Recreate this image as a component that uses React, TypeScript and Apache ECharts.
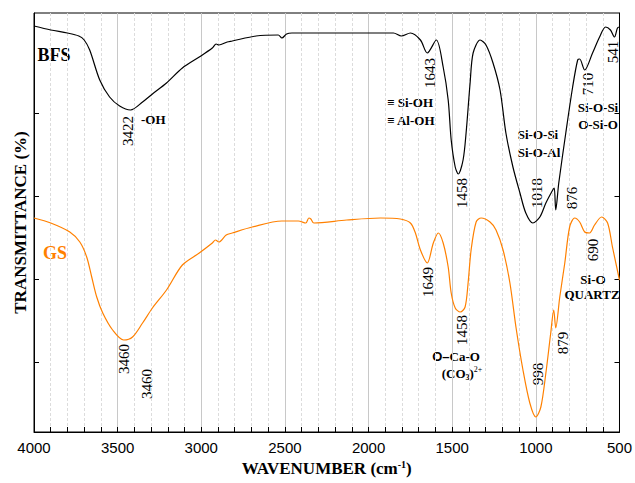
import React, { useEffect, useRef } from 'react';
import * as echarts from 'echarts';

// Wavenumber (cm-1) and relative transmittance (arbitrary units)
const bfsWavenumber = [4000, 3900, 3800, 3732, 3700, 3667, 3607, 3548, 3488, 3423, 3351, 3292, 3208, 3113, 3012, 2934, 2911, 2895, 2845, 2815, 2673, 2540, 2518, 2490, 2458, 2300, 2000, 1851, 1804, 1750, 1690, 1649, 1595, 1554, 1524, 1506, 1482, 1464, 1435, 1417, 1393, 1375, 1333, 1298, 1256, 1214, 1179, 1137, 1095, 1060, 1018, 976, 940, 899, 890, 881, 863, 821, 780, 750, 738, 708, 661, 619, 583, 554, 530, 512, 500];
const bfsValue = [406, 402, 399, 396, 392, 382, 352, 335, 326, 322, 330, 338, 349, 364, 375, 384, 388, 387, 390, 391, 396, 397, 394, 398, 399, 399, 399, 399, 396, 399, 392, 379, 392, 365, 332, 292, 265, 258, 272, 299, 349, 379, 392, 387, 369, 342, 299, 265, 239, 219, 209, 215, 229, 242, 244, 222, 249, 299, 345, 372, 373, 362, 379, 395, 405, 402, 395, 404, 405];

const gsWavenumber = [4000, 3900, 3786, 3726, 3685, 3655, 3625, 3589, 3530, 3464, 3411, 3351, 3292, 3208, 3113, 3012, 2934, 2915, 2895, 2851, 2815, 2696, 2518, 2420, 2375, 2357, 2345, 2327, 2131, 1929, 1810, 1750, 1720, 1690, 1649, 1613, 1583, 1554, 1524, 1506, 1482, 1452, 1423, 1405, 1387, 1357, 1327, 1274, 1238, 1196, 1155, 1119, 1077, 1036, 1000, 970, 940, 911, 893, 881, 857, 827, 798, 768, 738, 708, 679, 649, 607, 571, 542, 500];
const gsValue = [214, 209, 200, 190, 175, 155, 135, 119, 102, 92, 95, 109, 124, 142, 167, 179, 189, 192, 190, 197, 199, 205, 211, 211, 209, 214, 213, 209, 212, 214, 213, 209, 199, 182, 169, 189, 199, 189, 165, 139, 124, 120, 125, 149, 182, 210, 214, 210, 202, 182, 149, 105, 62, 29, 15, 25, 59, 99, 122, 104, 135, 169, 205, 214, 210, 200, 199, 207, 215, 209, 185, 152];

const yTickValues = [70, 153, 236, 319];

const SERIF = '"Liberation Serif", "Times New Roman", serif';
const SANS = '"Liberation Sans", Arial, sans-serif';

export default function App() {
  const ref = useRef<HTMLDivElement>(null);
  useEffect(() => {
    const chart = echarts.init(ref.current!, null, { renderer: 'svg' });

    const num = (text: string, x: number, y: number) => ({
      type: 'text', x, y, rotation: Math.PI / 2,
      style: { text, fill: '#000', font: `15px ${SERIF}`, textAlign: 'center', textVerticalAlign: 'middle' },
    });
    const lab = (text: string, x: number, y: number, align = 'center', size = 13, color = '#000') => ({
      type: 'text', x, y,
      style: { text, fill: color, font: `bold ${size}px ${SERIF}`, textAlign: align, textVerticalAlign: 'middle' },
    });

    const yAxisBase = {
      type: 'value', min: 0, max: 419,
      axisLine: { show: true, lineStyle: { color: '#000', width: 1 } },
      axisTick: { show: true, inside: true, length: 5, customValues: yTickValues, lineStyle: { color: '#000' } },
      axisLabel: { show: false },
      splitLine: { show: false },
    };

    chart.setOption({
      animation: false,
      backgroundColor: '#fff',
      grid: { left: 34, right: 13, top: 13, bottom: 51, show: true, borderColor: '#000', borderWidth: 1, backgroundColor: 'transparent' },
      xAxis: {
        type: 'value', min: 500, max: 4000, interval: 500, inverse: true,
        name: 'WAVENUMBER (cm{sup|-1})', nameLocation: 'middle', nameGap: 27,
        nameTextStyle: {
          fontFamily: SERIF, fontWeight: 'bold', fontSize: 17, color: '#000',
          rich: { sup: { fontFamily: SERIF, fontWeight: 'bold', fontSize: 10, verticalAlign: 'top', color: '#000', padding: [0, 0, 6, 0] } },
        },
        axisLine: { onZero: false, lineStyle: { color: '#000', width: 1 } },
        axisTick: { inside: true, length: 5, lineStyle: { color: '#000' } },
        minorTick: { show: true, splitNumber: 5, length: 5, lineStyle: { color: '#000' } },
        axisLabel: { fontFamily: SANS, fontSize: 15, color: '#000', margin: 8, formatter: (v: number) => String(v) },
        splitLine: { show: true, lineStyle: { color: '#c8c8c8', width: 1 } },
        minorSplitLine: { show: true, lineStyle: { color: '#dcdcdc', width: 1, type: [3, 2] } },
      },
      yAxis: [
        { ...yAxisBase, position: 'left', name: 'TRANSMITTANCE (%)', nameLocation: 'middle', nameGap: 5,
          nameTextStyle: { fontFamily: SERIF, fontWeight: 'bold', fontSize: 17, color: '#000' } },
        { ...yAxisBase, position: 'right' },
      ],
      series: [
        {
          name: 'BFS', type: 'line', showSymbol: false, smooth: 0.3,
          data: bfsWavenumber.map((w, i) => [w, bfsValue[i]]),
          lineStyle: { color: '#000', width: 1.2 }, itemStyle: { color: '#000' },
        },
        {
          name: 'GS', type: 'line', showSymbol: false, smooth: 0.3,
          data: gsWavenumber.map((w, i) => [w, gsValue[i]]),
          lineStyle: { color: '#ff8000', width: 1.2 }, itemStyle: { color: '#ff8000' },
        },
      ],
      graphic: [
        lab('BFS', 54, 55, 'center', 18),
        lab('GS', 55, 253, 'center', 18, '#ff8000'),
        num('3422', 128, 131),
        num('1643', 430, 73),
        num('1458', 462, 193),
        num('1018', 537, 193),
        num('876', 572, 198),
        num('710', 588, 84),
        num('541', 613, 52),
        num('3460', 124, 359),
        num('3460', 147, 384),
        num('1649', 428, 282),
        num('1458', 462, 330),
        num('998', 538, 374),
        num('879', 563, 343),
        num('690', 593, 250),
        lab('-OH', 141, 119, 'left'),
        lab('\u2261 Si-OH', 387, 102, 'left'),
        lab('\u2261 Al-OH', 387, 120, 'left'),
        lab('Si-O-Si', 538, 134),
        lab('Si-O-Al', 539, 152),
        lab('Si-O-Si', 598, 107),
        lab('O-Si-O', 598, 124),
        lab('Si-O', 593, 279),
        lab('QUARTZ', 592, 294),
        {
          type: 'text', x: 456, y: 356,
          style: {
            text: '{s|O\u2013}{b|Ca-O}', textAlign: 'center', textVerticalAlign: 'middle',
            rich: {
              s: { fontFamily: SANS, fontWeight: 'bold', fontSize: 13, fill: '#000' },
              b: { fontFamily: SERIF, fontWeight: 'bold', fontSize: 13, fill: '#000' },
            },
          },
        },
        {
          type: 'text', x: 462, y: 373,
          style: {
            text: '{b|(CO}{sub|3}{b|)}{sup|2+}', textAlign: 'center', textVerticalAlign: 'middle',
            rich: {
              b: { fontFamily: SERIF, fontWeight: 'bold', fontSize: 13, fill: '#000', verticalAlign: 'middle', lineHeight: 16 },
              sub: { fontFamily: SERIF, fontWeight: 'bold', fontSize: 8, fill: '#000', verticalAlign: 'bottom', lineHeight: 16 },
              sup: { fontFamily: SERIF, fontSize: 8, fill: '#000', verticalAlign: 'top', lineHeight: 16 },
            },
          },
        },
      ],
    });
    return () => chart.dispose();
  }, []);
  return <div ref={ref} style={{ position: 'fixed', left: 0, top: 0, width: 635, height: 483 }} />;
}
